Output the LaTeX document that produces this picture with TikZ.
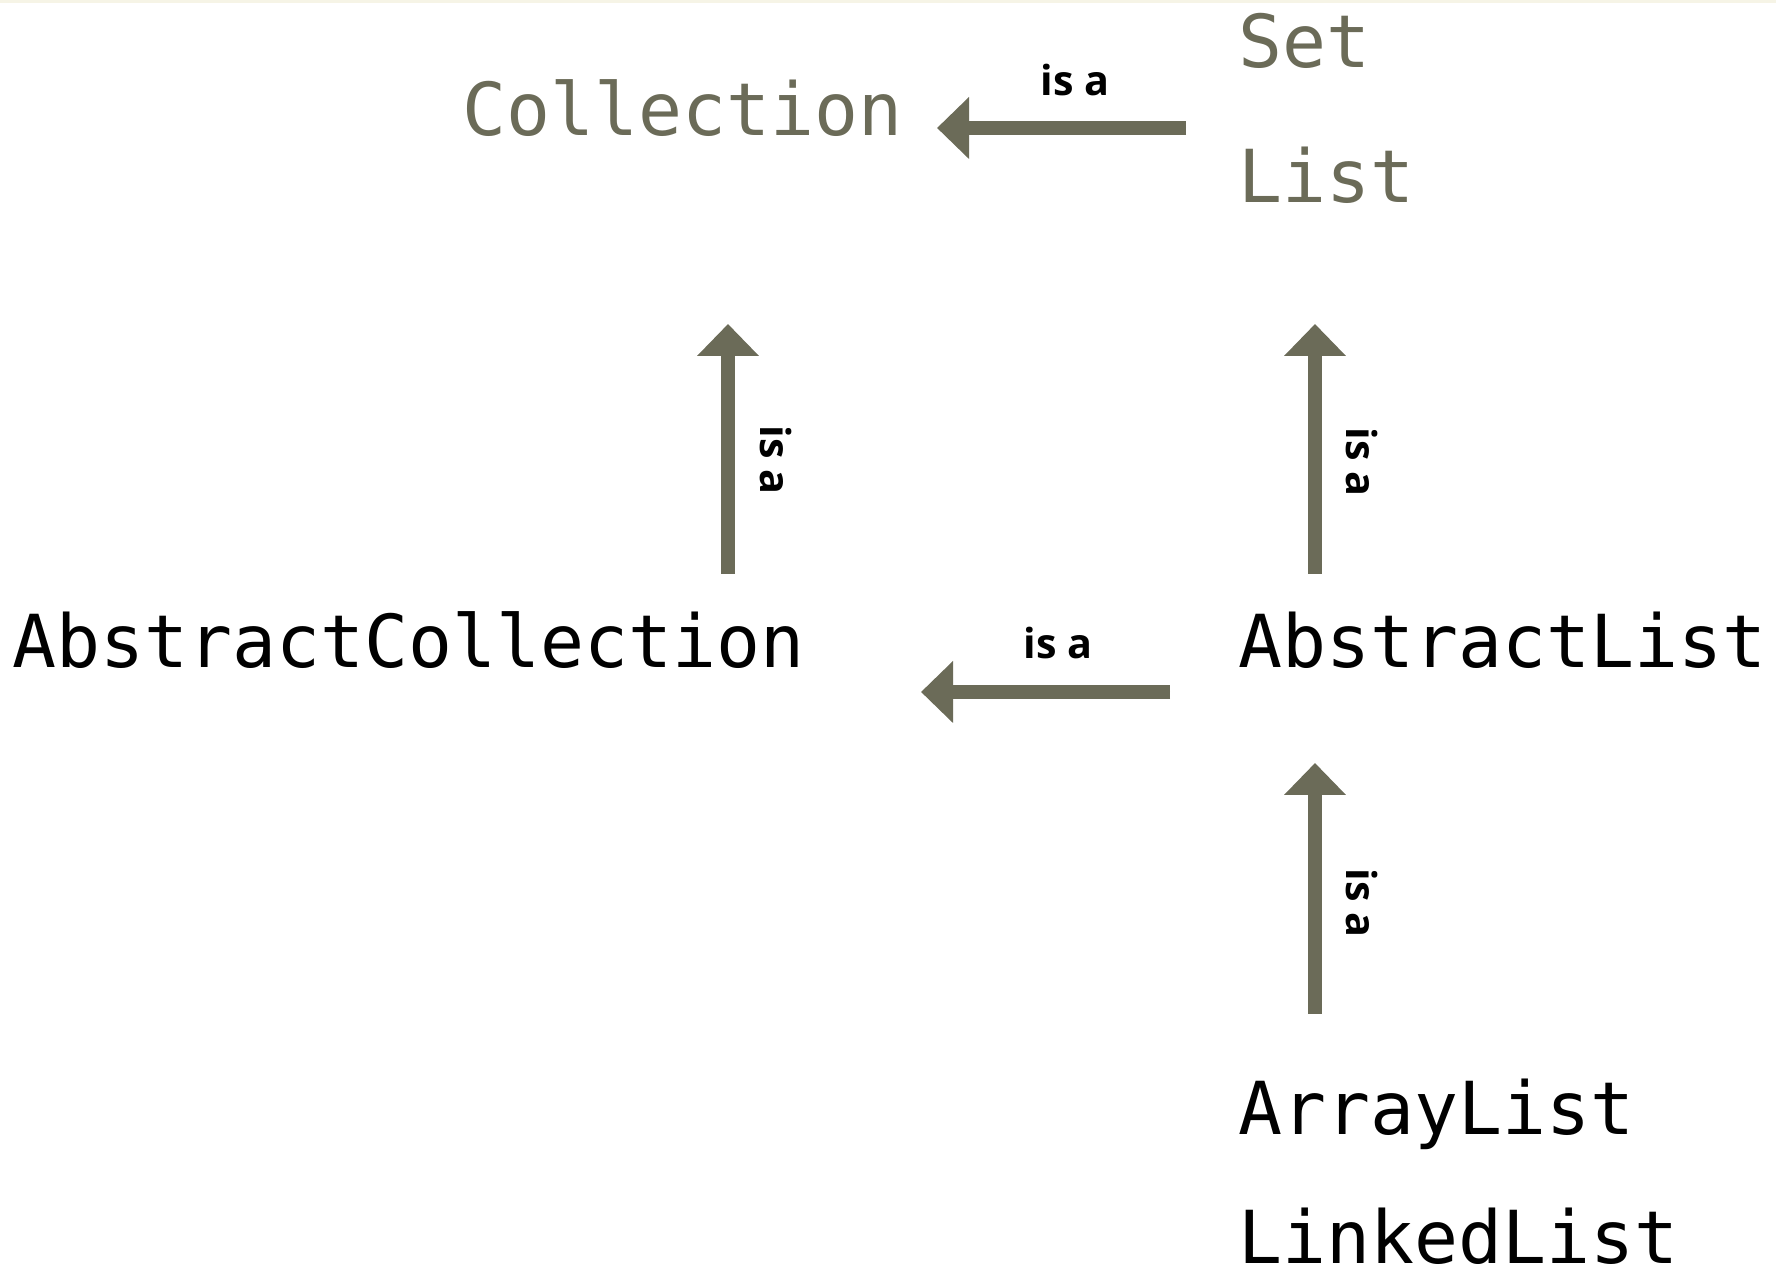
\documentclass[tikz,border=0pt]{standalone}
\usepackage{fontspec}
\setmonofont{DejaVu Sans Mono}
\newfontfamily\labelfont{Open Sans}
\usetikzlibrary{arrows.meta}
\definecolor{olivegray}{HTML}{6B6B58}
\definecolor{creamline}{HTML}{F6F4E6}
\tikzset{
  iface/.style={anchor=base west, inner sep=0pt, text=olivegray, font=\fontsize{41.6}{41.6}\selectfont\ttfamily},
  cls/.style={anchor=base west, inner sep=0pt, text=black, font=\fontsize{41.6}{41.6}\selectfont\ttfamily},
  isa/.style={draw=olivegray, line width=0.28cm, -{Triangle[width=1.2cm, length=0.64cm]}, fill=olivegray},
  isalabel/.style={inner sep=0pt, font=\fontsize{23.5}{23.5}\selectfont\labelfont\bfseries}
}
\begin{document}
\begin{tikzpicture}[x=0.02cm, y=0.02cm]
  \useasboundingbox (0,0) rectangle (1776,1273);
  \fill[creamline] (0,1270) rectangle (1776,1273);

  % Interfaces
  \node[iface] (collection) at (462,1137) {Collection};
  \node[iface] (set) at (1238,1205) {Set};
  \node[iface] (list) at (1238,1070) {List};

  % Classes
  \node[cls] (abscoll) at (12,605) {AbstractCollection};
  \node[cls] (abslist) at (1238,605) {AbstractList};
  \node[cls] (arraylist) at (1238,138) {ArrayList};
  \node[cls] (linkedlist) at (1238,9) {LinkedList};

  % Arrow ends
  \coordinate (setlistout) at (1186,1145);
  \coordinate (collin) at (937,1145);
  \coordinate (abscollout) at (728,699);
  \coordinate (abscollin) at (728,949);
  \coordinate (abslistout) at (1170,581);
  \coordinate (abslistin) at (921,581);
  \coordinate (abslistup) at (1315,699);
  \coordinate (listin) at (1315,949);
  \coordinate (concreteout) at (1315,259);
  \coordinate (concretein) at (1315,510);

  % "is a" arrows
  \draw[isa] (setlistout) -- (collin);
  \draw[isa] (abscollout) -- (abscollin);
  \draw[isa] (abslistout) -- (abslistin);
  \draw[isa] (abslistup) -- (listin);
  \draw[isa] (concreteout) -- (concretein);

  % labels
  \node[isalabel, anchor=base] (isa1) at (1075,1177) {is a};
  \node[isalabel, rotate=-90] (isa2) at (776,813) {is a};
  \node[isalabel, anchor=base] (isa3) at (1058,614) {is a};
  \node[isalabel, rotate=-90] (isa4) at (1362,811) {is a};
  \node[isalabel, rotate=-90] (isa5) at (1362,370) {is a};
\end{tikzpicture}
\end{document}
